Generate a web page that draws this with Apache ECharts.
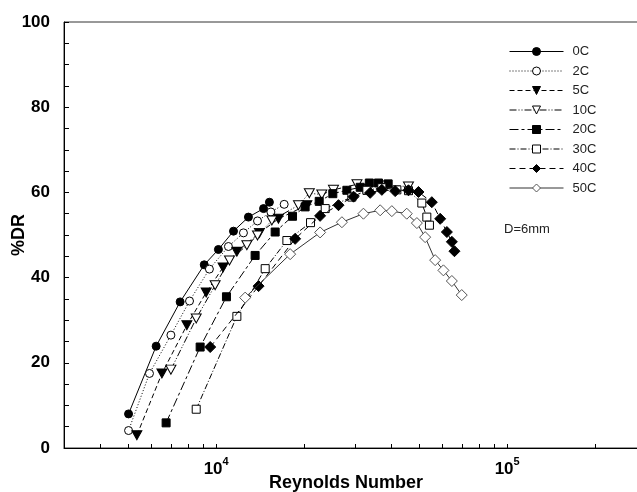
<!DOCTYPE html>
<html>
<head>
<meta charset="utf-8">
<script src="https://cdn.jsdelivr.net/npm/echarts@6/dist/echarts.min.js"></script>
<style>
  html, body { margin: 0; padding: 0; background: #fff; }
  #chart { width: 637px; height: 492px; }
</style>
</head>
<body>
<div id="chart"></div>
<script>
// Drag reduction (%DR) against Reynolds number, pipe D = 6 mm, one series per temperature.
const seriesNames = ['0C', '2C', '5C', '10C', '20C', '30C', '40C', '50C'];

const re0C  = [5000, 6220, 7520, 9100, 10180, 11470, 12910, 14550, 15240];
const dr0C  = [8.0, 23.9, 34.3, 43.0, 46.6, 50.9, 54.2, 56.2, 57.7];

const re2C  = [5000, 5900, 6990, 8100, 9480, 11020, 12410, 13870, 15420, 17130];
const dr2C  = [4.1, 17.5, 26.5, 34.5, 42.0, 47.3, 50.5, 53.3, 55.4, 57.2];

const re5C  = [5340, 6510, 7930, 9240, 10560, 11780, 14080, 16370, 20500];
const dr5C  = [3.0, 17.5, 28.8, 36.5, 42.4, 46.1, 50.5, 53.8, 57.0];

const re10C = [6990, 8540, 9920, 11110, 12750, 13870, 15540, 19180, 20900, 23070, 25300, 30470, 37570, 45800];
const dr10C = [18.4, 30.4, 38.2, 44.0, 47.6, 49.9, 53.4, 57.0, 59.8, 59.5, 60.6, 61.9, 61.6, 61.4];

const re20C = [6730, 8810, 10850, 13610, 15950, 18300, 20220, 22600, 25170, 28130, 31260, 33600, 36120, 39000];
const dr20C = [5.9, 23.7, 35.5, 45.2, 50.7, 54.4, 56.6, 57.9, 59.7, 60.5, 61.2, 62.2, 62.2, 62.0];

const re30C = [8540, 11780, 14740, 17500, 21100, 23700, 29260, 32950, 37100, 41780, 45800, 50900, 52960, 54070];
const dr30C = [9.1, 30.9, 42.1, 48.7, 52.9, 56.2, 58.9, 60.5, 61.1, 60.6, 60.4, 57.5, 54.2, 52.3];

const re40C = [9540, 13990, 18680, 22760, 26330, 29650, 33830, 37100, 41230, 45800, 49570, 55090, 58860, 62070, 64560, 65900];
const dr40C = [23.7, 38.0, 49.1, 54.5, 57.0, 59.0, 59.9, 60.6, 60.3, 60.5, 60.1, 57.7, 53.8, 50.7, 48.4, 46.2];

const re50C = [12580, 17960, 22760, 27050, 32070, 36610, 40150, 45180, 48950, 52270, 56570, 60390, 64560, 69800];
const dr50C = [35.3, 45.5, 50.6, 53.0, 55.0, 55.8, 55.6, 55.0, 52.8, 49.5, 44.1, 41.7, 39.2, 35.9];

// Axis ticks and labels
const xTickValues = [4000, 5000, 6000, 7000, 8000, 9000, 10000,
  20000, 30000, 40000, 50000, 60000, 70000, 80000, 90000, 100000, 200000];
const xLabelValues = [10000, 100000];
const yTickLabels = [0, 20, 40, 60, 80, 100];

const reValues = [re0C, re2C, re5C, re10C, re20C, re30C, re40C, re50C];
const drValues = [dr0C, dr2C, dr5C, dr10C, dr20C, dr30C, dr40C, dr50C];

const downTriangle = 'path://M0,0 L10,0 L5,9 Z';

// marker + line style per temperature
const styles = [
  { symbol: 'circle',     size: 8,       fill: '#000', border: '#000', dash: 'solid' },
  { symbol: 'circle',     size: 8,       fill: '#fff', border: '#000', dash: [1, 2] },
  { symbol: downTriangle, size: [10, 9], fill: '#000', border: '#000', dash: [5, 3] },
  { symbol: downTriangle, size: [10, 9], fill: '#fff', border: '#000', dash: [7, 2, 1, 2, 1, 2] },
  { symbol: 'rect',       size: 8,       fill: '#000', border: '#000', dash: [9, 3, 3, 3] },
  { symbol: 'rect',       size: 8,       fill: '#fff', border: '#000', dash: [6, 2, 1, 2] },
  { symbol: 'diamond',    size: [11, 11], fill: '#000', border: '#000', dash: [6, 4] },
  { symbol: 'diamond',    size: [11, 11], fill: '#fff', border: '#555', dash: 'solid' }
];

const series = seriesNames.map((name, i) => ({
  name: name,
  type: 'line',
  data: reValues[i].map((re, k) => [re, drValues[i][k]]),
  symbol: styles[i].symbol,
  symbolSize: styles[i].size,
  showAllSymbol: true,
  lineStyle: { color: i === 7 ? '#333' : '#000', width: 1, type: styles[i].dash },
  itemStyle: { color: styles[i].fill, borderColor: styles[i].border, borderWidth: 1 },
  emphasis: { disabled: true },
  z: 2 + i
}));

const tickFont = { fontFamily: 'Liberation Sans, Arial, sans-serif', fontWeight: 'bold', color: '#000' };

const chart = echarts.init(document.getElementById('chart'), null, { renderer: 'canvas' });
chart.setOption({
  animation: false,
  backgroundColor: '#fff',
  title: {
    text: 'D=6mm',
    left: 499,
    top: 218,
    textStyle: { fontFamily: 'Liberation Sans, Arial, sans-serif', fontSize: 13, fontWeight: 'normal', color: '#222' }
  },
  legend: {
    orient: 'vertical',
    left: 504,
    top: 40,
    itemWidth: 54,
    itemHeight: 10,
    itemGap: 6.5,
    data: seriesNames,
    selectedMode: false,
    textStyle: { fontFamily: 'Liberation Sans, Arial, sans-serif', fontSize: 13, color: '#222', padding: [0, 0, 0, 4] },
    itemStyle: { borderWidth: 1 },
    lineStyle: { width: 1 }
  },
  grid: {
    left: 64, top: 22, right: -9, bottom: 44,
    containLabel: false,
    outerBoundsMode: 'none',
    show: true, borderColor: '#333', borderWidth: 1, backgroundColor: 'transparent'
  },
  xAxis: {
    type: 'log',
    logBase: 10,
    min: 3000,
    max: 300000,
    name: 'Reynolds Number',
    nameLocation: 'middle',
    nameGap: 26,
    nameMoveOverlap: false,
    nameTextStyle: Object.assign({ fontSize: 18, padding: [0, 18, 0, 0] }, tickFont),
    axisLine: { show: true, onZero: false, lineStyle: { color: '#000', width: 1 } },
    axisTick: { show: true, inside: true, length: 4, customValues: xTickValues, lineStyle: { color: '#000' } },
    minorTick: { show: false },
    splitLine: { show: false },
    axisLabel: {
      customValues: xLabelValues,
      margin: 8,
      formatter: v => '{b|10}{s|' + Math.round(Math.log10(v)) + '}',
      rich: {
        b: Object.assign({ fontSize: 17, lineHeight: 22, verticalAlign: 'bottom' }, tickFont),
        s: Object.assign({ fontSize: 11, lineHeight: 11, verticalAlign: 'top' }, tickFont)
      }
    }
  },
  yAxis: {
    type: 'value',
    min: 0,
    max: 100,
    interval: 20,
    name: '%DR',
    nameLocation: 'middle',
    nameGap: 36,
    nameRotate: 90,
    nameMoveOverlap: false,
    nameTextStyle: Object.assign({ fontSize: 18 }, tickFont),
    axisLine: { show: true, lineStyle: { color: '#000', width: 1 } },
    axisTick: { show: true, inside: true, length: 5, lineStyle: { color: '#000' } },
    minorTick: { show: true, splitNumber: 4, length: 5, lineStyle: { color: '#000' } },
    splitLine: { show: false },
    axisLabel: Object.assign({
      margin: 14,
      fontSize: 17,
      customValues: yTickLabels
    }, tickFont)
  },
  series: series
});
</script>
</body>
</html>
